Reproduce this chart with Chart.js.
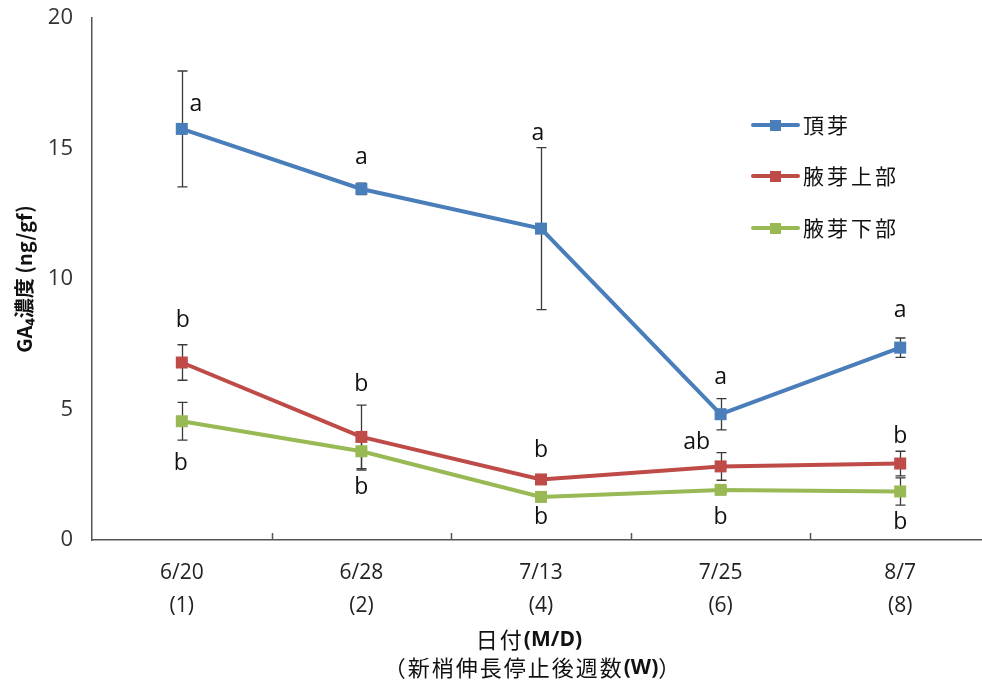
<!DOCTYPE html>
<html><head><meta charset="utf-8">
<script src="https://cdn.jsdelivr.net/npm/chart.js@4"></script>
<style>html,body{margin:0;padding:0;background:#fff;overflow:hidden;width:982px;height:688px}#wrap{width:990px;height:688px;position:relative}</style>
</head><body><div id="wrap"><canvas id="c"></canvas></div>
<script>
const categories = [['6/20','(1)'],['6/28','(2)'],['7/13','(4)'],['7/25','(6)'],['8/7','(8)']];
const seriesNames = ['頂芽','腋芽上部','腋芽下部'];
const apical = [15.75, 13.45, 11.93, 4.82, 7.37];
const apicalErr = [2.22, 0.22, 3.1, 0.6, 0.37];
const upper = [6.8, 3.95, 2.32, 2.82, 2.93];
const upperErr = [0.68, 1.22, 0.12, 0.53, 0.47];
const lower = [4.55, 3.4, 1.65, 1.92, 1.86];
const lowerErr = [0.72, 0.72, 0.1, 0.12, 0.52];
const apicalLetters = ['a','a','a','a','a'];
const upperLetters = ['b','b','b','ab','b'];
const lowerLetters = ['b','b','b','b','b'];
const yTicks = [0,5,10,15,20];
const xTitle1 = [['日付',false],['(M/D)',true]];
const xTitle2 = [['（新梢伸長停止後週数',false],['(W)',true],['）',false]];

// label offsets (pixels, style only)
const apicalOff = [[14,-24],[0,-32],[-3,-95],[0,-37],[0,-37]];
const upperOff = [[1,-42],[0,-52],[0,-29],[-24,-24],[0,-27]];
const lowerOff = [[-1,42],[0,36],[0,21],[0,28],[0,31]];

const colors = ['#4A7EBB','#BE4B48','#98B954'];
const errs = [apicalErr, upperErr, lowerErr];
const letters = [apicalLetters, upperLetters, lowerLetters];
const offs = [apicalOff, upperOff, lowerOff];

const CJK = '"Noto Sans CJK JP", "Noto Sans", sans-serif';
const LAT = '"Open Sans", "Noto Sans", sans-serif';

const errorBars = {
  id:'errorBars',
  afterDatasetsDraw(chart){
    const ctx = chart.ctx, y = chart.scales.y;
    ctx.save();
    ctx.strokeStyle = '#3a3a3a'; ctx.lineWidth = 1.3;
    chart.data.datasets.forEach((ds,i)=>{
      const meta = chart.getDatasetMeta(i);
      meta.data.forEach((pt,j)=>{
        const v = ds.data[j], e = errs[i][j];
        const x = Math.round(pt.x)+0.5;
        const t = y.getPixelForValue(v+e), b = y.getPixelForValue(v-e);
        ctx.beginPath();
        ctx.moveTo(x,t); ctx.lineTo(x,b);
        ctx.moveTo(x-5,t); ctx.lineTo(x+5,t);
        ctx.moveTo(x-5,b); ctx.lineTo(x+5,b);
        ctx.stroke();
      });
    });
    ctx.restore();
  }
};

const topMarkers = {
  id:'topMarkers',
  afterDatasetsDraw(chart){
    const ctx = chart.ctx;
    ctx.save();
    chart.data.datasets.forEach((ds,i)=>{
      const meta = chart.getDatasetMeta(i);
      ctx.fillStyle = colors[i];
      meta.data.forEach(pt=>{ ctx.fillRect(pt.x-6, pt.y-6, 12, 12); });
    });
    ctx.fillStyle = '#111';
    ctx.font = '23px ' + LAT;
    ctx.textAlign = 'center'; ctx.textBaseline = 'middle';
    chart.data.datasets.forEach((ds,i)=>{
      const meta = chart.getDatasetMeta(i);
      meta.data.forEach((pt,j)=>{
        ctx.fillText(letters[i][j], pt.x+offs[i][j][0], pt.y+offs[i][j][1]);
      });
    });
    ctx.restore();
  }
};

function drawRuns(ctx, runs, cx, cy, size){
  const fonts = runs.map(r => r[1] ? ('bold ' + (size-1) + 'px ' + LAT) : (size + 'px ' + CJK));
  const sp = runs.map(r => r[1] ? '0px' : '2px');
  let total = 0;
  runs.forEach((r,k)=>{ ctx.font = fonts[k]; ctx.letterSpacing = sp[k]; total += ctx.measureText(r[0]).width; });
  let x = cx - total/2;
  ctx.textAlign = 'left';
  runs.forEach((r,k)=>{ ctx.font = fonts[k]; ctx.letterSpacing = sp[k]; ctx.fillText(r[0], x, cy); x += ctx.measureText(r[0]).width; });
  ctx.letterSpacing = '0px';
}

const axisDecor = {
  id:'axisDecor',
  afterDraw(chart){
    const ctx = chart.ctx, xs = chart.scales.x, a = chart.chartArea;
    ctx.save();
    ctx.strokeStyle = '#555'; ctx.lineWidth = 1.5;
    for(let j=1;j<categories.length;j++){
      const xp = Math.round((xs.getPixelForValue(j-1)+xs.getPixelForValue(j))/2)+0.5;
      ctx.beginPath(); ctx.moveTo(xp,a.bottom); ctx.lineTo(xp,a.bottom-7); ctx.stroke();
    }
    ctx.fillStyle = '#111';
    ctx.textBaseline = 'middle';
    drawRuns(ctx, xTitle1, 529, 640, 22);
    drawRuns(ctx, xTitle2, 533, 668, 22);
    ctx.font = '21px ' + CJK;
    ctx.letterSpacing = '3px';
    ctx.textAlign = 'left';
    const ly = [125,176,228];
    seriesNames.forEach((n,i)=>{
      ctx.strokeStyle = colors[i]; ctx.lineWidth = 4; ctx.lineCap='round';
      ctx.beginPath(); ctx.moveTo(753,ly[i]); ctx.lineTo(798,ly[i]); ctx.stroke();
      ctx.fillStyle = colors[i]; ctx.fillRect(770,ly[i]-5,11,11);
      ctx.fillStyle = '#111';
      ctx.fillText(n, 803, ly[i]);
    });
    ctx.letterSpacing = '0px';
    ctx.restore();
  }
};

const dataVals = [apical, upper, lower];
new Chart(document.getElementById('c'), {
  type:'line',
  data:{
    labels: categories,
    datasets: seriesNames.map((n,i)=>({
      label:n, data:dataVals[i], borderColor:colors[i], backgroundColor:colors[i],
      borderWidth:4, pointRadius:0, tension:0, fill:false
    }))
  },
  options:{
    responsive:true, maintainAspectRatio:false, animation:false,
    layout:{padding:{top:18,right:0,bottom:0,left:0}},
    plugins:{legend:{display:false}, tooltip:{enabled:false}},
    scales:{
      x:{
        offset:true,
        grid:{display:false, drawTicks:false},
        border:{display:true,color:'#555',width:1.5},
        ticks:{font:{size:21,family:LAT,lineHeight:1.6},color:'#222',padding:16,maxRotation:0,autoSkip:false},
        afterFit(s){ s.height = 148; s.paddingLeft = 0; s.paddingRight = 0; }
      },
      y:{
        min:0,max:20,
        afterBuildTicks(s){ s.ticks = yTicks.map(v=>({value:v})); },
        grid:{display:false, drawTicks:true, tickLength:6, tickColor:'#555', tickWidth:1.5},
        border:{display:true,color:'#555',width:1.5},
        ticks:{font:{size:22,family:LAT},color:'#333',padding:13},
        title:{display:true,text:'GA₄濃度 (ng/gf)',font:{size:20,weight:'bold',family:CJK},color:'#111',padding:{top:12,bottom:0}},
        afterFit(s){ s.width = 92; s.paddingTop = 0; s.paddingBottom = 0; }
      }
    }
  },
  plugins:[errorBars, topMarkers, axisDecor]
});
</script></body></html>
